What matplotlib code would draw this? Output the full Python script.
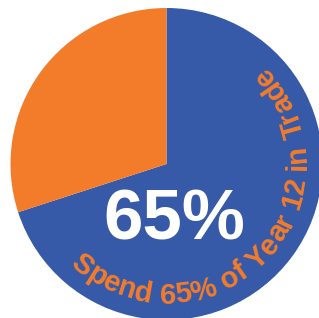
import numpy as np
import matplotlib
matplotlib.use("Agg")
from matplotlib import pyplot as plt
from matplotlib.font_manager import FontProperties
from matplotlib.textpath import TextToPath

# data
labels = ['Trade', 'Other']
shares = [70, 30]
colors = ['#3659A8', '#F37C2B']
big_label = '65%'
arc_label = 'Spend 65% of Year 12 in Trade'

PX = 156.0  # pixels per unit radius
cx, cy = 166.5, 164.0  # pie centre in image pixels


def main():
    fig = plt.figure(figsize=(3.19, 3.18), dpi=100)
    ax = fig.add_axes([0, 0, 1, 1])
    ax.pie(shares, colors=colors, startangle=90, counterclock=False,
           radius=1.0, wedgeprops=dict(linewidth=0))
    ax.set_xlim(-cx / PX, (319 - cx) / PX)
    ax.set_ylim((cy - 318) / PX, cy / PX)
    ax.set_aspect('equal', adjustable='datalim')
    ax.axis('off')

    ax.text((174 - cx) / PX, (cy - 222) / PX, big_label, color='white',
            fontsize=51, fontweight='bold', family='Liberation Sans',
            ha='center', va='center')

    # curved label, letters placed one by one along the inside of the rim
    fp = FontProperties(family='Liberation Sans', weight='bold', size=21)
    ttp = TextToPath()

    def w(s):
        return ttp.get_text_width_height_descent(s, fp, ismath=False)[0]

    bar = w('||')
    adv = np.array([w('|' + ch + '|') - bar for ch in arc_label])
    centres = np.cumsum(adv) - adv / 2
    a0, a1 = -130.0, 42.0
    angles = a0 + (a1 - a0) * (centres - centres[0]) / (centres[-1] - centres[0])
    rb = 139.5 / PX
    for ch, a in zip(arc_label, angles):
        if ch == ' ':
            continue
        t = np.radians(a)
        ax.text(rb * np.cos(t), rb * np.sin(t), ch, fontproperties=fp,
                color=colors[1], rotation=a + 90, rotation_mode='anchor',
                ha='center', va='baseline')

    fig.savefig('out.png', dpi=100, facecolor='white')


if __name__ == "__main__":
    main()
